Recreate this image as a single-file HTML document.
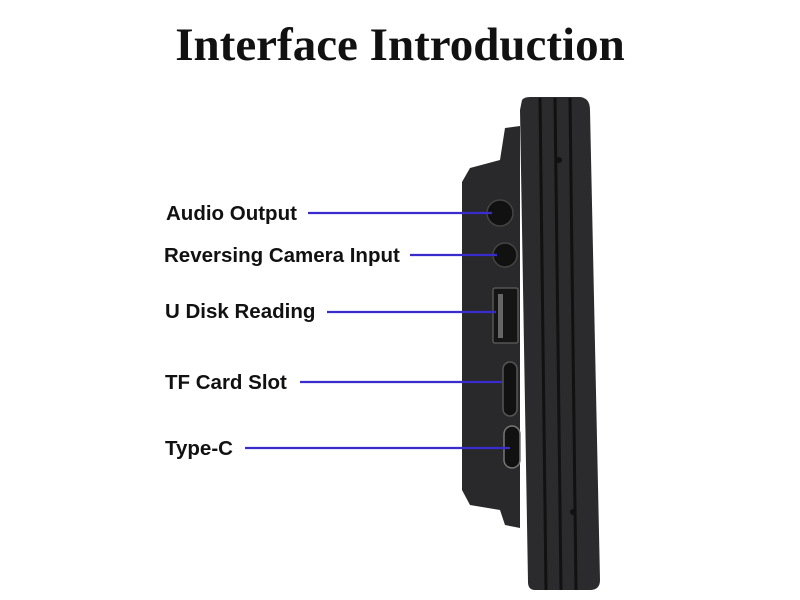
<!DOCTYPE html>
<html><head><meta charset="utf-8"><style>
html,body{margin:0;padding:0;background:#fff;}
body{width:800px;height:600px;overflow:hidden;position:relative;}
.t{position:absolute;left:0;width:800px;top:18px;text-align:center;font-family:"Liberation Serif",serif;font-weight:bold;font-size:47px;color:#111;}
.l{position:absolute;font-family:"Liberation Sans",sans-serif;font-weight:bold;font-size:20.5px;color:#111;white-space:nowrap;}
svg{position:absolute;left:0;top:0;}
</style></head><body>
<div class="t">Interface Introduction</div>
<svg width="800" height="600">
<path d="M505,128 L520,126 L520,528 L505,525 L500,510 L470,505 L462,490 L462,182 L470,168 L500,160 Z" fill="#29292b"/>
<path d="M522,100 Q524,97 530,97 L580,97 Q590,98 590,110 L600,580 Q600,590 590,590 L535,590 Q528,590 528,582 L520,110 Z" fill="#2b2b2d"/>
<line x1="540" y1="98" x2="546" y2="590" stroke="#111" stroke-width="3"/>
<line x1="555" y1="98" x2="561" y2="590" stroke="#111" stroke-width="3"/>
<line x1="570" y1="98" x2="576" y2="590" stroke="#111" stroke-width="3"/>
<circle cx="559" cy="160" r="3" fill="#111"/>
<circle cx="573" cy="512" r="3" fill="#111"/>
<circle cx="500" cy="213" r="13" fill="#111" stroke="#444" stroke-width="1.5"/>
<circle cx="505" cy="255" r="12" fill="#111" stroke="#444" stroke-width="1.5"/>
<rect x="493" y="288" width="25" height="55" rx="2" fill="#151515" stroke="#555" stroke-width="1.5"/>
<rect x="498" y="294" width="5" height="44" fill="#666"/>
<rect x="503" y="362" width="14" height="54" rx="7" fill="#111" stroke="#555" stroke-width="1.5"/>
<rect x="504" y="426" width="16" height="42" rx="8" fill="#111" stroke="#777" stroke-width="1.5"/>
<g stroke="#3a2bcc" stroke-width="2.2">
<line x1="308" y1="213" x2="492" y2="213"/>
<line x1="410" y1="255" x2="497" y2="255"/>
<line x1="327" y1="312" x2="496" y2="312"/>
<line x1="300" y1="382" x2="502" y2="382"/>
<line x1="245" y1="448" x2="510" y2="448"/>
</g>
</svg>
<div class="l" style="left:166px;top:202px">Audio Output</div>
<div class="l" style="left:164px;top:244px">Reversing Camera Input</div>
<div class="l" style="left:165px;top:300px">U Disk Reading</div>
<div class="l" style="left:165px;top:371px">TF Card Slot</div>
<div class="l" style="left:165px;top:437px">Type-C</div>
</body></html>
